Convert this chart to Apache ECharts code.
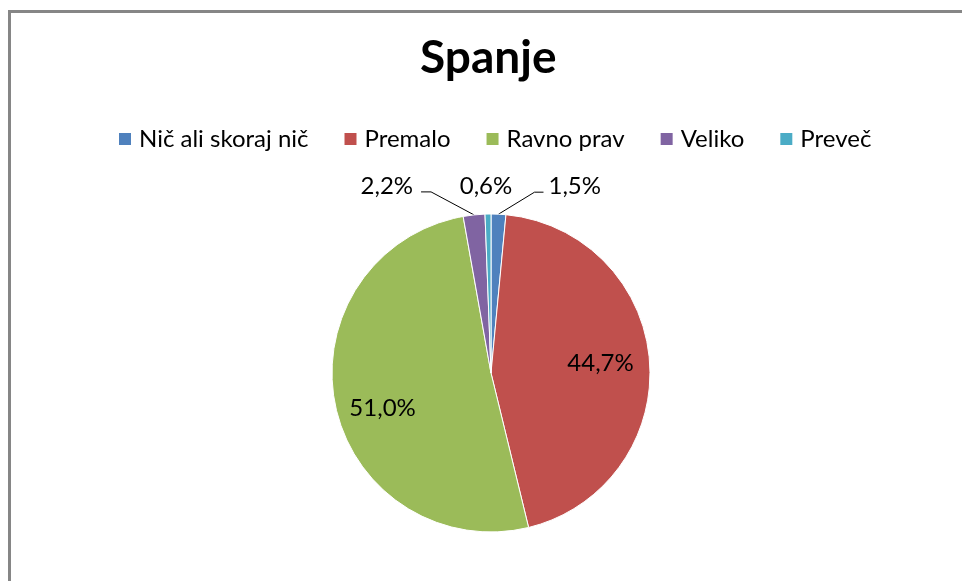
<!DOCTYPE html>
<html>
<head>
<meta charset="utf-8">
<script src="https://cdn.jsdelivr.net/npm/echarts@6/dist/echarts.min.js"></script>
<style>
  html, body { margin: 0; padding: 0; background: #fff; }
  #chart { width: 962px; height: 581px; }
</style>
</head>
<body>
<div id="chart"></div>
<script>
// Sleep survey answers for Spain (percent of respondents)
const categories = ['Nič ali skoraj nič', 'Premalo', 'Ravno prav', 'Veliko', 'Preveč'];
const values = [1.5, 44.7, 51.0, 2.2, 0.6];
const colors = ['#4F81BD', '#C0504D', '#9BBB59', '#8064A2', '#4BACC6'];

const FONT = 'Lato, "Open Sans", sans-serif';
const chart = echarts.init(document.getElementById('chart'), null, { renderer: 'canvas' });

const CX = 491, CY = 373, R = 159;

function fmt(v) {
  return v.toFixed(1).replace('.', ',') + '%';
}

// extra nudges for the two inside labels
const insideShift = { 1: [-4, -2], 2: [3, 12] };

const option = {
  animation: false,
  backgroundColor: '#ffffff',
  color: colors,
  title: {
    text: 'Spanje',
    left: 420,
    top: 35,
    padding: 0,
    textStyle: { fontFamily: FONT, fontSize: 46, fontWeight: 'bold', color: '#000' }
  },
  legend: {
    top: 122,
    left: 112,
    itemWidth: 14,
    itemHeight: 14,
    itemGap: 34,
    icon: 'rect',
    textStyle: { fontFamily: FONT, fontSize: 24, color: '#000', padding: [0, 0, 0, 2] },
    data: categories
  },
  graphic: [{
    type: 'rect',
    shape: { x: 9.5, y: 11.5, width: 1200, height: 800 },
    style: { fill: 'none', stroke: '#868686', lineWidth: 3 },
    silent: true
  }],
  series: [{
    type: 'pie',
    center: [CX, CY],
    radius: R,
    startAngle: 90,
    clockwise: true,
    avoidLabelOverlap: false,
    itemStyle: { borderColor: '#ffffff', borderWidth: 1 },
    label: {
      fontFamily: FONT, fontSize: 24, color: '#000',
      formatter: p => fmt(p.value)
    },
    labelLine: { lineStyle: { color: '#000', width: 1 } },
    data: categories.map((name, i) => {
      const small = values[i] < 5;
      return {
        name,
        value: values[i],
        label: { position: small ? 'outside' : 'inside' },
        labelLine: { show: small && i !== 4, length: 20, length2: 10 }
      };
    }),
    labelLayout: function (params) {
      const i = params.dataIndex;
      const lr = params.labelRect;
      const lp = params.labelLinePoints;
      if (i === 1 || i === 2) {
        // push inside labels further out toward the rim
        const cx = lr.x + lr.width / 2, cy = lr.y + lr.height / 2;
        const s = insideShift[i];
        return {
          x: CX + (cx - CX) * 1.38 + s[0],
          y: CY + (cy - CY) * 1.38 + s[1],
          align: 'center', verticalAlign: 'middle'
        };
      }
      const p0 = lp ? lp[0] : null;
      if (i === 0) {
        const e1 = [p0[0] + 36, p0[1] - 22];
        const e2 = [p0[0] + 45, p0[1] - 22];
        return {
          x: e2[0] + 5, y: e2[1] - 6, align: 'left', verticalAlign: 'middle',
          labelLinePoints: [p0, e1, e2]
        };
      }
      if (i === 3) {
        const e1 = [p0[0] - 43, p0[1] - 23];
        const e2 = [p0[0] - 53, p0[1] - 23];
        return {
          x: e2[0] - 8, y: e2[1] - 6, align: 'right', verticalAlign: 'middle',
          labelLinePoints: [p0, e1, e2]
        };
      }
      if (i === 4) {
        return { x: CX - 5, y: 186, align: 'center', verticalAlign: 'middle' };
      }
    }
  }]
};

chart.setOption(option);
</script>
</body>
</html>
